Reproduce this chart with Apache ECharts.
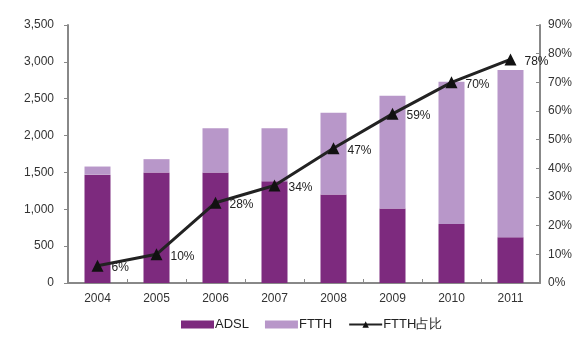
<!DOCTYPE html>
<html><head><meta charset="utf-8">
<script src="https://cdn.jsdelivr.net/npm/echarts@6/dist/echarts.min.js"></script>
<style>html,body{margin:0;padding:0;background:#fff}#c{width:586px;height:348px}</style>
</head><body><div id="c"></div>
<script>
var years = ['2004','2005','2006','2007','2008','2009','2010','2011'];
var adsl = [1470, 1500, 1500, 1380, 1200, 1010, 800, 620];
var ftth = [110, 180, 600, 720, 1110, 1530, 1930, 2270];
var ftthShare = [6, 10, 28, 34, 47, 59, 70, 78];
var leftTicks = [0, 500, 1000, 1500, 2000, 2500, 3000, 3500];

var font = 'Liberation Sans, Arial, sans-serif';
var chart = echarts.init(document.getElementById('c'));
chart.setOption({
  backgroundColor: '#ffffff',
  animation: false,
  textStyle: {fontFamily: font},
  graphic: [{type:'text', left: 'center', top: -12, style:{text:'（单位：万户）', font:'12px "Noto Sans CJK SC"', fill:'#000'}}],
  grid: {left: 68, right: 46, top: 25, bottom: 65},
  legend: {
    bottom: 12, left: 176, itemGap: 16, itemWidth: 33, itemHeight: 8,
    textStyle: {fontSize: 13, color: '#222', fontFamily: font, padding:[0,0,0,-4]},
    data: [{name:'ADSL', icon:'rect'}, {name:'FTTH', icon:'rect'}, {name:'FTTH占比'}]
  },
  xAxis: {
    type: 'category', data: years,
    axisLine: {lineStyle: {color: '#888', width: 2}},
    axisTick: {show: true, inside: true, length: 4, lineStyle:{color:'#888'}},
    axisLabel: {color: '#333', fontSize: 12, margin: 10}
  },
  yAxis: [{
    type: 'value', min: 0, max: 3500, interval: 500,
    axisLine: {show: true, lineStyle: {color: '#888', width: 2}},
    axisTick: {show: true, length: 4, lineStyle:{color:'#888'}},
    splitLine: {show: false},
    axisLabel: {color: '#333', fontSize: 12, margin: 14, formatter: function(v){return v.toLocaleString('en-US');}}
  }, {
    type: 'value', min: 0, max: 90, interval: 10,
    axisLine: {show: true, lineStyle: {color: '#888', width: 2}},
    axisTick: {show: true, inside: true, length: 4, lineStyle:{color:'#888'}},
    splitLine: {show: false},
    axisLabel: {color: '#333', fontSize: 12, margin: 8, formatter: '{value}%'}
  }],
  series: [{
    name: 'ADSL', type: 'bar', stack: 'a', barWidth: 26, data: adsl,
    itemStyle: {color: '#7d2a7e'}
  }, {
    name: 'FTTH', type: 'bar', stack: 'a', barWidth: 26, data: ftth,
    itemStyle: {color: '#b897c9'}
  }, {
    name: 'FTTH占比', type: 'line', yAxisIndex: 1, data: ftthShare,
    symbol: 'triangle', symbolSize: 12,
    lineStyle: {color: '#222', width: 3},
    itemStyle: {color: '#111'},
    label: {show: true, position: 'right', distance: 8, offset:[0,2], formatter: '{c}%', color: '#222', fontSize: 12, fontFamily: font}
  }]
});
</script></body></html>
